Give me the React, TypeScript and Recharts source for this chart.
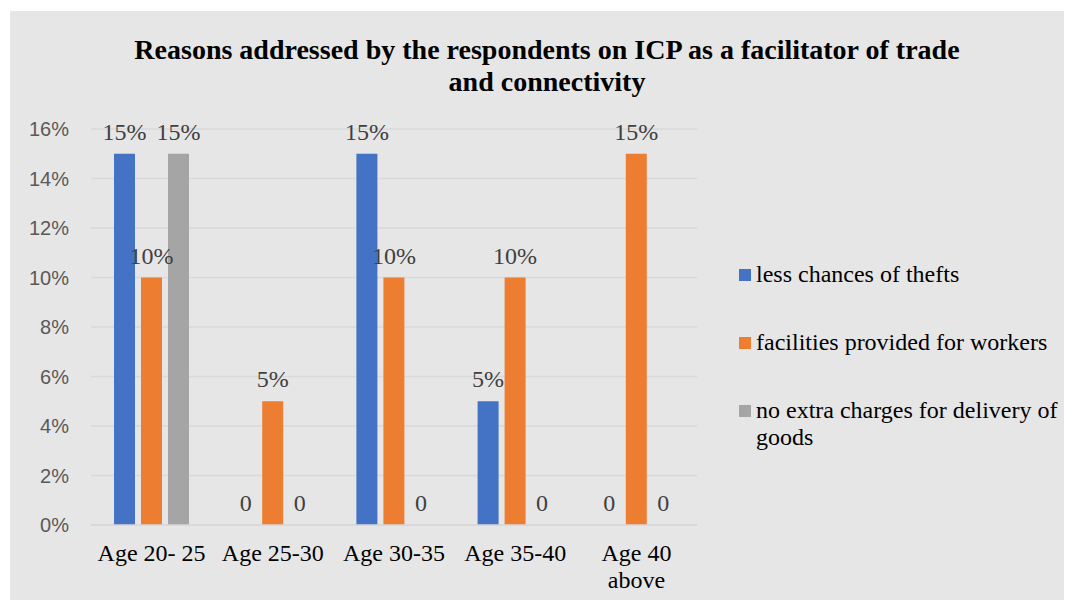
import { Bar, BarChart, CartesianGrid, LabelList, XAxis, YAxis } from "recharts";

const CATEGORIES = ["Age 20- 25", "Age 25-30", "Age 30-35", "Age 35-40", "Age 40\nabove"];
const THEFTS = [15, 0, 15, 5, 0];
const FACILITIES = [10, 5, 10, 10, 15];
const NO_CHARGES = [15, 0, 0, 0, 0];
const Y_TICKS = [0, 2, 4, 6, 8, 10, 12, 14, 16];

const SERIES = [
  { key: "thefts", name: "less chances of thefts", color: "#4472c4" },
  { key: "facilities", name: "facilities provided for workers", color: "#ed7d31" },
  { key: "charges", name: "no extra charges for delivery of goods", color: "#a5a5a5" },
];

const data = CATEGORIES.map((c, i) => ({
  name: c,
  thefts: THEFTS[i],
  facilities: FACILITIES[i],
  charges: NO_CHARGES[i],
}));

const SERIF = "'Liberation Serif', 'Times New Roman', serif";

function CategoryTick(props: any) {
  const { x, y, payload } = props;
  const lines = String(payload.value).split("\n");
  return (
    <text x={x} y={y} textAnchor="middle" fontFamily={SERIF} fontSize={24} fill="#000">
      {lines.map((l, i) => (
        <tspan key={i} x={x} dy={i === 0 ? 28 : 27}>
          {l}
        </tspan>
      ))}
    </text>
  );
}

// zero values are shown as a bare "0", like the source
const labelFmt = (v: any) => (v === 0 ? "0" : `${v}%`);

export default function App() {
  return (
    <div style={{ paddingTop: 3, paddingLeft: 2 }}>
      <div style={{ position: "relative", width: 1060, height: 589, background: "#e7e6e6" }}>
        <div
          style={{
            position: "absolute",
            left: 17,
            width: 1040,
            top: 23,
            textAlign: "center",
            fontFamily: SERIF,
            fontWeight: "bold",
            fontSize: 28,
            lineHeight: "32px",
            whiteSpace: "nowrap",
            color: "#000",
          }}
        >
          Reasons addressed by the respondents on ICP as a facilitator of trade
          <br />
          and connectivity
        </div>

        <BarChart
          width={1060}
          height={589}
          data={data}
          margin={{ top: 118, right: 373, left: 21, bottom: 15 }}
          barSize={21}
          barGap={6}
        >
          <CartesianGrid vertical={false} stroke="#d9d9d9" strokeWidth={1.5} />
          <XAxis
            dataKey="name"
            tick={<CategoryTick />}
            tickLine={false}
            axisLine={{ stroke: "#d9d9d9", strokeWidth: 1.5 }}
            interval={0}
            height={60}
          />
          <YAxis
            domain={[0, 16]}
            ticks={Y_TICKS}
            tickFormatter={(v) => `${v}%`}
            tickLine={false}
            axisLine={false}
            tickSize={0}
            tickMargin={22}
            width={60}
            tick={{ fontFamily: "'Liberation Sans', Arial, sans-serif", fontSize: 20, fill: "#595959" }}
          />
          {SERIES.map((s) => (
            <Bar
              key={s.key}
              dataKey={s.key}
              name={s.name}
              fill={s.color}
              minPointSize={0.01}
              isAnimationActive={false}
            >
              <LabelList
                dataKey={s.key}
                position="top"
                offset={14}
                formatter={labelFmt}
                style={{ fontFamily: SERIF, fontSize: 24, fill: "#404040" }}
              />
            </Bar>
          ))}
        </BarChart>

        <div
          style={{
            position: "absolute",
            left: 729,
            top: 250,
            display: "flex",
            flexDirection: "column",
            gap: 41,
            fontFamily: SERIF,
            fontSize: 24,
            lineHeight: "27px",
            color: "#000",
          }}
        >
          {SERIES.map((s) => (
            <div key={s.key} style={{ display: "flex", alignItems: "flex-start" }}>
              <span
                style={{ width: 12, height: 12, marginTop: 8, marginRight: 5, background: s.color, flexShrink: 0 }}
              />
              <span style={{ width: 305 }}>{s.name}</span>
            </div>
          ))}
        </div>
      </div>
    </div>
  );
}
